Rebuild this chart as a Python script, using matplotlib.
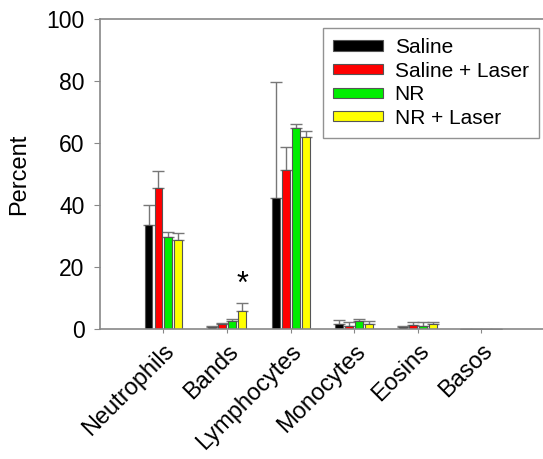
import numpy as np
import matplotlib
matplotlib.use("Agg")
import matplotlib.pyplot as plt

plt.rcParams['font.family'] = ['Liberation Sans', 'DejaVu Sans']

# === Data ===
categories = ["Neutrophils", "Bands", "Lymphocytes", "Monocytes", "Eosins", "Basos"]
groups = ["Saline", "Saline + Laser", "NR", "NR + Laser"]
colors = ["#000000", "#ff0000", "#00ee00", "#ffff00"]

saline = [33.7, 0.8, 42.4, 1.5, 0.8, 0.0]
saline_err = [6.3, 0.3, 37.1, 1.4, 0.2, 0.0]
saline_laser = [45.4, 1.5, 51.3, 1.1, 1.3, 0.0]
saline_laser_err = [5.6, 0.5, 7.3, 1.1, 0.9, 0.0]
nr = [29.6, 2.6, 64.7, 2.6, 1.0, 0.0]
nr_err = [1.6, 0.5, 1.4, 0.5, 1.2, 0.0]
nr_laser = [28.7, 5.9, 62.0, 1.8, 1.8, 0.0]
nr_laser_err = [2.3, 2.6, 1.9, 0.7, 0.5, 0.0]

means = [saline, saline_laser, nr, nr_laser]
errs = [saline_err, saline_laser_err, nr_err, nr_laser_err]

# === Plotting ===
fig = plt.figure(figsize=(5.43, 4.59), dpi=100)
ax = fig.add_axes([0.184, 0.283, 0.816, 0.676])

x = np.arange(len(categories))
step = 0.157
width = 0.125
for i, (m, e) in enumerate(zip(means, errs)):
    pos = x + (i - 1.5) * step
    ax.bar(pos, m, width=width, color=colors[i], edgecolor="#555555",
           linewidth=0.8, label=groups[i], zorder=2)
    ax.errorbar(pos, m, yerr=[np.zeros(len(e)), e], fmt="none",
                ecolor="#777777", elinewidth=1.0, capsize=4, capthick=1.0, zorder=1)

# significance mark over Bands, NR + Laser
ax.text(1 + 1.5 * step, nr_laser[1] + nr_laser_err[1] + 0.8, "*",
        ha="center", va="bottom", fontsize=22)

ax.set_xlim(-1.0, 5.97)
ax.set_ylim(0, 100)
ax.set_yticks([0, 20, 40, 60, 80, 100])
ax.set_xticks(x)
ax.set_xticklabels(categories, rotation=45, ha="right", rotation_mode="anchor")
ax.set_ylabel("Percent", fontsize=17, labelpad=12)
ax.tick_params(axis="y", labelsize=16.5, length=4, color="#888888", pad=7)
ax.tick_params(axis="x", labelsize=17, length=3, color="#888888", pad=5)

for side in ["left", "bottom", "top"]:
    ax.spines[side].set_color("#888888")
    ax.spines[side].set_linewidth(1.2)
ax.spines["right"].set_visible(False)

leg = ax.legend(loc="upper left", bbox_to_anchor=(0.503, 0.972), fontsize=15,
                frameon=True, fancybox=False, edgecolor="#777777",
                handlelength=2.4, handleheight=0.38, labelspacing=0.22,
                borderpad=0.5, handletextpad=0.55, borderaxespad=0)
leg.get_frame().set_linewidth(1.0)

fig.savefig("out.png", dpi=100)
